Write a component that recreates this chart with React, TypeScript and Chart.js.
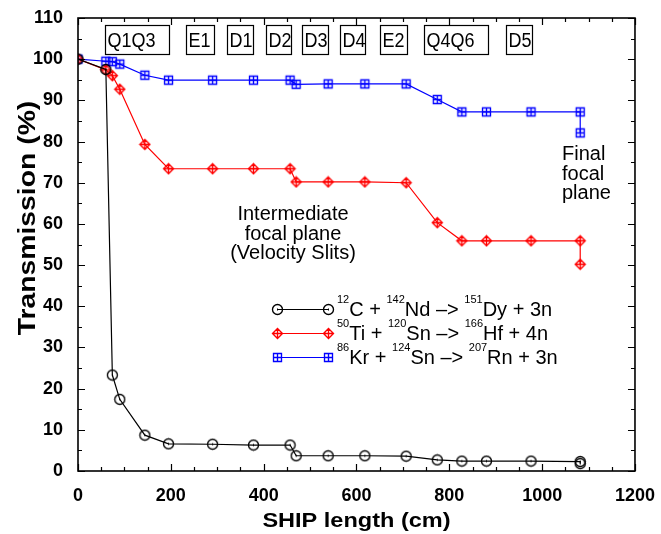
import React, { useEffect, useRef } from "react";
import { Chart, registerables } from "chart.js";

Chart.register(...registerables);

// ---- data ----
const shipLengthCm = [0, 60, 74, 90, 144, 195, 290, 378, 457, 470, 539, 618, 707, 774, 827, 880, 976, 1082, 1082];
const transC12Nd142 = [100, 97.5, 23.3, 17.4, 8.7, 6.6, 6.5, 6.3, 6.3, 3.7, 3.7, 3.7, 3.6, 2.7, 2.4, 2.4, 2.4, 2.3, 1.8];
const transTi50Sn120 = [100, 97.4, 96.0, 92.7, 79.3, 73.4, 73.4, 73.4, 73.4, 70.2, 70.2, 70.2, 70.0, 60.3, 55.9, 55.9, 55.9, 55.9, 50.2];
const transKr86Sn124 = [100, 99.5, 99.4, 98.8, 96.1, 94.9, 94.9, 94.9, 94.9, 93.9, 94.0, 94.0, 94.0, 90.2, 87.2, 87.2, 87.2, 87.2, 82.1];

const xMin = 0, xMax = 1200, xStep = 200, xMinorStep = 50;
const yMin = 0, yMax = 110, yStep = 10, yMinorStep = 5;

const elementLabels = ["Q1Q3", "E1", "D1", "D2", "D3", "D4", "E2", "Q4Q6", "D5"];
const elementStartCm = [58, 233, 322, 404, 483, 564, 651, 745, 922];
const elementEndCm = [196, 292, 378, 459, 538, 619, 709, 883, 978];
const elementTop = 108.3;
const elementBottom = 101.3;

const seriesColors = ["#000000", "#ff0000", "#0000ff"];
const seriesMarkers = ["circle", "diamond", "square"];
// legend: [superscript, main text] pairs
const legendRows = [
  [["12", "C + "], ["142", "Nd –> "], ["151", "Dy + 3n"]],
  [["50", "Ti + "], ["120", "Sn –> "], ["166", "Hf + 4n"]],
  [["86", "Kr + "], ["124", "Sn –> "], ["207", "Rn + 3n"]],
];
const seriesNames = ["12C + 142Nd -> 151Dy + 3n", "50Ti + 120Sn -> 166Hf + 4n", "86Kr + 124Sn -> 207Rn + 3n"];

const intermediateText = ["Intermediate", "focal plane", "(Velocity Slits)"];
const finalText = ["Final", "focal", "plane"];

function drawMarker(g: CanvasRenderingContext2D, kind: string, color: string, cx: number, cy: number) {
  g.save();
  g.strokeStyle = color;
  g.fillStyle = color;
  g.lineWidth = 1.35;
  if (kind === "circle") {
    g.beginPath();
    g.arc(cx, cy, 5, 0, Math.PI * 2);
    g.stroke();
    g.fillRect(cx - 0.5, cy - 1, 1, 2);
  } else if (kind === "diamond") {
    g.beginPath();
    g.moveTo(cx, cy - 5);
    g.lineTo(cx + 5, cy);
    g.lineTo(cx, cy + 5);
    g.lineTo(cx - 5, cy);
    g.closePath();
    g.moveTo(cx, cy - 5);
    g.lineTo(cx, cy + 5);
    g.moveTo(cx - 5, cy);
    g.lineTo(cx + 5, cy);
    g.stroke();
  } else {
    g.beginPath();
    g.rect(cx - 4, cy - 4, 8, 8);
    g.moveTo(cx, cy - 4);
    g.lineTo(cx, cy + 4);
    g.moveTo(cx - 4, cy);
    g.lineTo(cx + 4, cy);
    g.stroke();
  }
  g.restore();
}

function makeMarker(kind: string, color: string): HTMLCanvasElement {
  const c = document.createElement("canvas");
  c.width = 13;
  c.height = 13;
  const g = c.getContext("2d")!;
  drawMarker(g, kind, color, 6.5, 6.5);
  return c;
}

export default function App() {
  const ref = useRef<HTMLCanvasElement | null>(null);

  useEffect(() => {
    const canvas = ref.current;
    if (!canvas) return;
    const markers = seriesMarkers.map((k, i) => makeMarker(k, seriesColors[i]));
    const seriesValues = [transC12Nd142, transTi50Sn120, transKr86Sn124];

    const decorPlugin = {
      id: "decor",
      afterDraw(chart: any) {
        const ctx = chart.ctx as CanvasRenderingContext2D;
        const { left, right, top, bottom } = chart.chartArea;
        const xs = chart.scales.x;
        const ys = chart.scales.y;
        ctx.save();
        ctx.strokeStyle = "#000";
        ctx.fillStyle = "#000";
        // frame
        ctx.lineWidth = 1.6;
        ctx.strokeRect(left, top, right - left, bottom - top);
        // ticks (inward, all four sides)
        ctx.lineWidth = 1.2;
        ctx.beginPath();
        for (let v = xMin; v <= xMax; v += xMinorStep) {
          const px = Math.round(xs.getPixelForValue(v)) + 0.5;
          const len = v % xStep === 0 ? 7 : 4;
          ctx.moveTo(px, bottom);
          ctx.lineTo(px, bottom - len);
          ctx.moveTo(px, top);
          ctx.lineTo(px, top + len);
        }
        for (let v = yMin; v <= yMax; v += yMinorStep) {
          const py = Math.round(ys.getPixelForValue(v)) + 0.5;
          const len = v % yStep === 0 ? 7 : 4;
          ctx.moveTo(left, py);
          ctx.lineTo(left + len, py);
          ctx.moveTo(right, py);
          ctx.lineTo(right - len, py);
        }
        ctx.stroke();

        // element boxes
        ctx.lineWidth = 1.2;
        ctx.font = "18px 'Liberation Sans', Arial, sans-serif";
        ctx.textAlign = "left";
        ctx.textBaseline = "alphabetic";
        const by0 = Math.round(ys.getPixelForValue(elementTop)) + 0.5;
        const by1 = Math.round(ys.getPixelForValue(elementBottom)) + 0.5;
        elementLabels.forEach((lab, i) => {
          const bx0 = Math.round(xs.getPixelForValue(elementStartCm[i])) + 0.5;
          const bx1 = Math.round(xs.getPixelForValue(elementEndCm[i])) + 0.5;
          ctx.strokeRect(bx0, by0, bx1 - bx0, by1 - by0);
          ctx.save();
          ctx.translate(bx0 + 2, by1 - 8);
          ctx.scale(1, 1.15);
          ctx.fillText(lab, 0, 0);
          ctx.restore();
        });

        // annotation texts
        ctx.font = "20px 'Liberation Sans', Arial, sans-serif";
        ctx.textAlign = "center";
        intermediateText.forEach((t, i) => ctx.fillText(t, 293, 220 + i * 19.5));
        ctx.textAlign = "left";
        finalText.forEach((t, i) => ctx.fillText(t, 562, 160 + i * 19.5));

        // legend
        const rowY = [309, 333, 357];
        legendRows.forEach((parts, i) => {
          const y = rowY[i] + 0.5;
          ctx.save();
          ctx.strokeStyle = seriesColors[i];
          ctx.lineWidth = 1.2;
          ctx.beginPath();
          ctx.moveTo(277, y);
          ctx.lineTo(328, y);
          ctx.stroke();
          ctx.restore();
          drawMarker(ctx, seriesMarkers[i], seriesColors[i], 277.5, y);
          drawMarker(ctx, seriesMarkers[i], seriesColors[i], 328.5, y);
          let x = 337;
          ctx.fillStyle = "#000";
          ctx.textAlign = "left";
          parts.forEach(([sup, main]) => {
            ctx.font = "11px 'Liberation Sans', Arial, sans-serif";
            ctx.fillText(sup, x, rowY[i] - 6);
            x += ctx.measureText(sup).width;
            ctx.font = "20px 'Liberation Sans', Arial, sans-serif";
            ctx.fillText(main, x, rowY[i] + 7);
            x += ctx.measureText(main).width;
          });
        });

        // axis titles
        ctx.fillStyle = "#000";
        ctx.textAlign = "center";
        ctx.textBaseline = "alphabetic";
        ctx.save();
        ctx.translate((left + right) / 2, 527);
        ctx.scale(1.12, 1);
        ctx.font = "bold 21px 'Liberation Sans', Arial, sans-serif";
        ctx.fillText("SHIP length (cm)", 0, 0);
        ctx.restore();
        ctx.save();
        ctx.translate(35, 218);
        ctx.rotate(-Math.PI / 2);
        ctx.scale(1.18, 1);
        ctx.font = "bold 24px 'Liberation Sans', Arial, sans-serif";
        ctx.fillText("Transmission (%)", 0, 0);
        ctx.restore();

        ctx.restore();
      },
    };

    const tickFont = { family: "'Liberation Sans', Arial, sans-serif", weight: "bold" as const, size: 18 };

    const chart = new Chart(canvas, {
      type: "line",
      data: {
        datasets: seriesValues.map((vals, i) => ({
          label: seriesNames[i],
          data: shipLengthCm.map((x, j) => ({ x, y: vals[j] })),
          borderColor: seriesColors[i],
          backgroundColor: "transparent",
          borderWidth: 1.2,
          pointStyle: markers[i] as any,
          pointRadius: 6,
          tension: 0,
          fill: false,
        })),
      },
      options: {
        animation: false,
        responsive: false,
        maintainAspectRatio: false,
        layout: { padding: { left: 0, right: 21, top: 18, bottom: 0 } },
        plugins: { legend: { display: false }, tooltip: { enabled: false } },
        scales: {
          x: {
            type: "linear",
            min: xMin,
            max: xMax,
            ticks: { stepSize: xStep, color: "#000", font: tickFont, padding: 6, maxRotation: 0, callback: (v: any) => String(v) },
            grid: { display: false },
            border: { display: false },
            afterFit: (s: any) => {
              s.height = 63;
            },
          },
          y: {
            type: "linear",
            min: yMin,
            max: yMax,
            ticks: { stepSize: yStep, color: "#000", font: tickFont, padding: 7, callback: (v: any) => String(v) },
            grid: { display: false },
            border: { display: false },
            afterFit: (s: any) => {
              s.width = 78;
            },
          },
        },
      },
      plugins: [decorPlugin],
    });
    return () => chart.destroy();
  }, []);

  return (
    <div style={{ position: "fixed", left: 0, top: 0, width: 661, height: 534, background: "#fff" }}>
      <canvas ref={ref} width={661} height={534} style={{ display: "block", width: 661, height: 534 }} />
    </div>
  );
}
